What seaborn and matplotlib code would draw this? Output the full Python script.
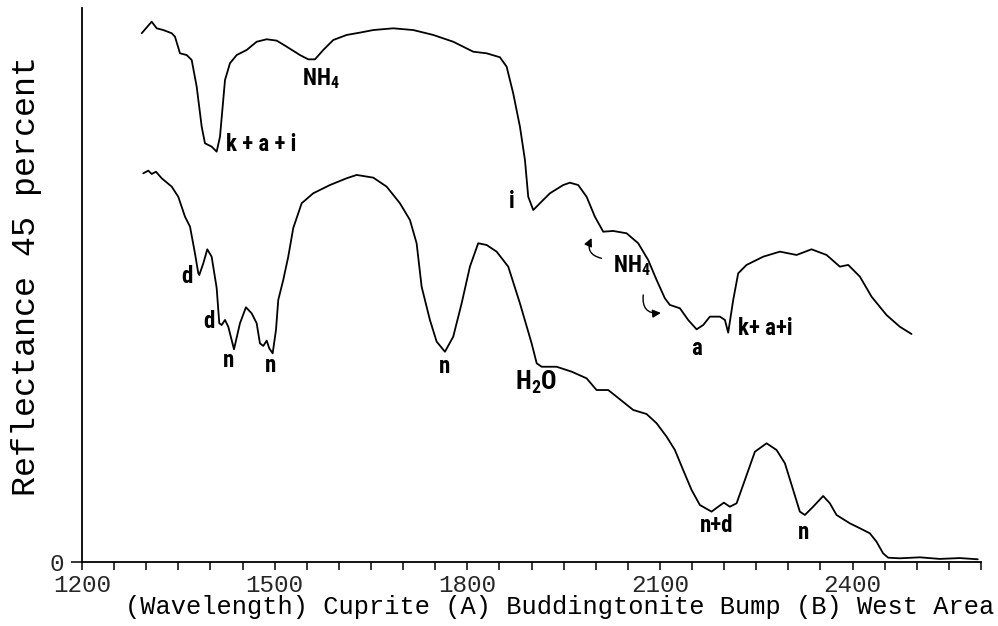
import matplotlib
matplotlib.use("Agg")
import matplotlib.pyplot as plt
from matplotlib.ticker import MultipleLocator, FixedLocator
from matplotlib import font_manager as fm
import numpy as np
import pandas as pd
import seaborn as sns

# ---------------- data ----------------
# Curve A : Cuprite (upper spectrum)
wl_a = [1293, 1308.5, 1316.3, 1326.6, 1339.7, 1344.8, 1352.6, 1363, 1370.8, 1378.6,
        1386.4, 1391.5, 1401.9, 1409.7, 1414.9, 1422.7, 1430.4, 1440.9, 1456.4, 1472,
        1487.6, 1503.2, 1518.7, 1539.4, 1552.4, 1562.8, 1575.7, 1591.3, 1612.1, 1632.8,
        1653.6, 1684.7, 1715.8, 1747, 1778.1, 1809.3, 1830.1, 1850.8, 1861.3, 1871.5,
        1882, 1889.8, 1894.9, 1902.7, 1913.1, 1928.7, 1949.4, 1959.8, 1972.7, 1985.8,
        1998.7, 2011.7, 2027.2, 2048.1, 2066.2, 2081.7, 2094.8, 2107.7, 2115.5, 2131.1,
        2144, 2157.1, 2167.4, 2177.8, 2193.4, 2201.2, 2206.3, 2214.1, 2221.9, 2234.9,
        2260.8, 2286.8, 2312.8, 2336.1, 2359.5, 2380.2, 2393.2, 2411.4, 2429.6, 2452.9,
        2473.6, 2491.8]
refl_a = [42.95, 43.89, 43.35, 43.21, 42.95, 42.67, 41.32, 41.18, 40.78, 38.61,
          35.36, 34.01, 33.74, 33.33, 34.55, 39.15, 40.51, 41.18, 41.59, 42.26,
          42.46, 42.35, 41.86, 41.18, 40.83, 40.83, 41.59, 42.40, 42.81, 43.0,
          43.21, 43.35, 43.21, 42.81, 42.26, 41.45, 41.32, 41.0, 40.23, 38.07,
          35.36, 32.65, 29.67, 28.59, 29.14, 29.95, 30.62, 30.81, 30.62, 29.67,
          28.05, 26.83, 26.89, 26.7, 25.89, 24.53, 22.91, 21.42, 20.88, 20.61,
          19.66, 18.9, 19.25, 19.93, 19.93, 19.66, 18.63, 21.28, 23.45, 24.13,
          24.8, 25.21, 24.94, 25.4, 24.94, 23.99, 24.13, 23.18, 21.55, 20.06,
          19.11, 18.52]

# Curve B : Buddingtonite Bump, West Area (lower spectrum)
wl_b = [1295.4, 1303.2, 1308.5, 1315.2, 1324.1, 1339.7, 1349.9, 1360.4, 1368.2, 1375.9,
        1381.1, 1382.6, 1388.9, 1395.1, 1401.9, 1409.7, 1413.8, 1417.5, 1422.7, 1427.8,
        1436.7, 1446, 1455.3, 1464.2, 1472, 1477.1, 1482.3, 1487.6, 1491.6, 1496.9,
        1502.1, 1505.6, 1513.4, 1521.2, 1529, 1542.1, 1560.1, 1586.1, 1612.1, 1627.7,
        1653.6, 1674.4, 1695.1, 1710.7, 1721.1, 1728.9, 1741.8, 1752.3, 1765.2, 1778.1,
        1791.2, 1804.1, 1817, 1830.1, 1845.7, 1863.8, 1882, 1900.2, 1908.1, 1915.8,
        1939.1, 1962.5, 1985.8, 2001.3, 2019.5, 2032.5, 2058.4, 2079.2, 2094.8, 2110.4,
        2123.3, 2136.2, 2149.3, 2162.2, 2180.4, 2190.7, 2199.6, 2208.9, 2219.4, 2232.3,
        2247.9, 2266.1, 2281.6, 2294.6, 2307.5, 2317.9, 2325.7, 2338.6, 2354.2, 2364.6,
        2375, 2395.8, 2411.4, 2426.9, 2437.3, 2447.6, 2455.4, 2473.6, 2504.8, 2535.9,
        2567, 2595]
refl_b = [31.57, 31.79, 31.52, 31.7, 31.17, 30.49, 29.67, 28.05, 27.24, 25.08,
          23.45, 23.31, 24.26, 25.4, 24.8, 22.26, 19.39, 19.25, 19.66, 19.11,
          17.28, 19.39, 20.69, 20.2, 19.39, 17.76, 17.55, 17.98, 17.36, 16.95,
          18.85, 21.28, 22.91, 24.8, 27.13, 29.14, 29.95, 30.62, 31.17, 31.44,
          31.22, 30.49, 29.14, 27.78, 25.89, 22.36, 19.66, 17.9, 17.08, 18.3,
          21.01, 23.99, 25.89, 25.75, 25.21, 23.99, 21.01, 17.76, 16.14, 15.86,
          15.86, 15.46, 14.92, 13.97, 13.97, 13.43, 12.35, 12.02, 11.27, 10.18,
          9.1, 7.47, 5.85, 4.63, 4.09, 4.49, 4.82, 4.49, 4.77, 6.66,
          8.96, 9.64, 9.1, 8.02, 5.85, 4.09, 3.82, 4.49, 5.36, 4.77,
          3.82, 3.14, 2.74, 2.33, 1.65, 0.7, 0.35, 0.3, 0.38, 0.25,
          0.32, 0.22]

x_major = [1200, 1500, 1800, 2100, 2400]
y_ticks = [0]

# feature labels: (text, wavelength, reflectance, ha, size key)
labels = [
    ("NH$_4$", 1572, 38.75, "center", "m"),
    ("k + a + i", 1425, 33.41, "left", "m"),
    ("i", 1869, 28.73, "center", "m"),
    ("NH$_4$", 2027, 23.58, "left", "m"),
    ("a", 2157, 16.81, "center", "m"),
    ("k+ a+i", 2222, 18.44, "left", "m"),
    ("H$_2$O", 1874, 13.97, "left", "l"),
    ("d", 1363, 22.66, "center", "m"),
    ("d", 1397, 18.98, "center", "m"),
    ("n", 1428, 15.86, "center", "m"),
    ("n", 1493, 15.46, "center", "m"),
    ("n", 1765, 15.33, "center", "m"),
    ("n+d", 2189, 2.46, "center", "m"),
    ("n", 2324, 1.84, "center", "m"),
]
# NH4 pointer arrows: (tail wl, tail refl, head wl, head refl)
arrows = [
    (2009, 24.67, 1993.6, 26.32),
    (2074, 21.69, 2101.5, 20.23),
]

# ---------------- style ----------------
sns.set_style("ticks")
plt.rcParams["font.family"] = ["Liberation Mono", "DejaVu Sans Mono"]

names = {f.name for f in fm.fontManager.ttflist}
label_font = "Liberation Sans"
for cand in ["Liberation Sans Narrow", "Roboto Condensed", "Open Sans Condensed",
             "Noto Sans Condensed", "DejaVu Sans Condensed"]:
    if cand in names:
        label_font = cand
        break
plt.rcParams["mathtext.fontset"] = "custom"
plt.rcParams["mathtext.rm"] = f"{label_font}:bold"
plt.rcParams["mathtext.it"] = f"{label_font}:bold"
plt.rcParams["mathtext.bf"] = f"{label_font}:bold"

fig = plt.figure(figsize=(9.98, 6.26), dpi=100)
ax = fig.add_axes([82 / 998, 64 / 626, 899 / 998, 554 / 626])

df_a = pd.DataFrame({"wavelength": wl_a, "reflectance": refl_a})
df_b = pd.DataFrame({"wavelength": wl_b, "reflectance": refl_b})
for d in (df_a, df_b):
    sns.lineplot(data=d, x="wavelength", y="reflectance", sort=False, estimator=None,
                 color="black", lw=1.3, ax=ax)

ax.set_xlim(1200, 2600)
ax.set_ylim(0, 45)
sns.despine(ax=ax)
for s in ("left", "bottom"):
    ax.spines[s].set_linewidth(1.3)
    ax.spines[s].set_color("black")

ax.xaxis.set_major_locator(FixedLocator(x_major))
ax.xaxis.set_minor_locator(MultipleLocator(50))
ax.set_xticklabels([str(v) for v in x_major])
ax.set_yticks(y_ticks)
ax.set_yticklabels([str(v) for v in y_ticks])
ax.tick_params(axis="x", which="both", direction="out", length=5.5, width=1.1,
               color="black", labelsize=17.5, pad=3)
ax.tick_params(axis="y", which="both", direction="out", length=8, width=1.1,
               color="black", labelsize=17.5, pad=5)

ax.set_xlabel("(Wavelength) Cuprite (A) Buddingtonite Bump (B) West Area",
              fontsize=18.3, color="black")
ax.xaxis.set_label_coords(0.5315, -0.060)
ax.set_ylabel("Reflectance 45 percent", fontsize=24, color="black")
ax.yaxis.set_label_coords(-0.045, 0.516)

sizes = {"m": 16.5, "l": 18.5}
for txt, x, y, ha, sz in labels:
    ax.text(x, y, txt, ha=ha, va="baseline", fontsize=sizes[sz],
            family=label_font, fontweight="bold", color="black")

for (tx, ty, hx, hy), rad in zip(arrows, [-0.6, 0.6]):
    ax.annotate("", xy=(hx, hy), xytext=(tx, ty),
                arrowprops=dict(arrowstyle="-|>", connectionstyle=f"arc3,rad={rad}",
                                color="black", lw=1.0, mutation_scale=12,
                                shrinkA=0, shrinkB=0))

fig.savefig("out.png", dpi=100)
